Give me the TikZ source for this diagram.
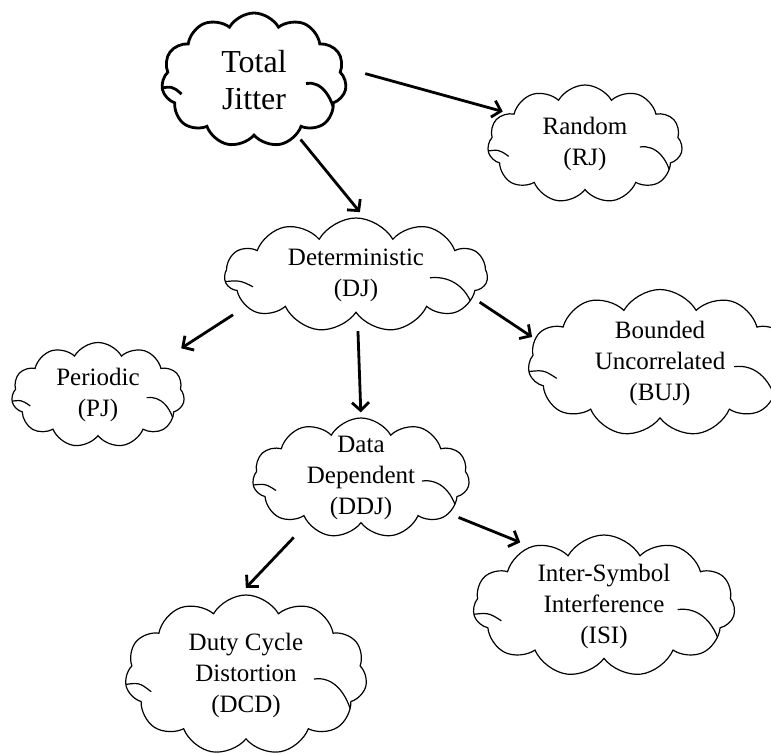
\documentclass[tikz,border=0pt]{standalone}
\usepackage{fontspec}
\setmainfont{Liberation Serif}
\usetikzlibrary{shapes.symbols,arrows.meta,calc}

\tikzset{
    jitter/.style={cloud, cloud puffs=11, cloud puff arc=120, cloud ignores aspect,
        draw, line width=1.2pt, align=center, inner xsep=-12pt, inner ysep=-20pt,
        font=\fontsize{25}{31}\selectfont, path picture={
            \draw let \p1=(path picture bounding box.south west),
                \p2=(path picture bounding box.north east) in
                ({\x1+0.78*(\x2-\x1)},{\y2-0.53*(\y2-\y1)})
                .. controls ({\x1+0.86*(\x2-\x1)},{\y2-0.51*(\y2-\y1)})
                and ({\x1+0.93*(\x2-\x1)},{\y2-0.62*(\y2-\y1)})
                .. ({\x1+0.95*(\x2-\x1)},{\y2-0.86*(\y2-\y1)})
                ({\x1-0.02*(\x2-\x1)},{\y2-0.57*(\y2-\y1)})
                .. controls ({\x1+0.06*(\x2-\x1)},{\y2-0.55*(\y2-\y1)})
                .. ({\x1+0.11*(\x2-\x1)},{\y2-0.61*(\y2-\y1)});
        }},
    arr/.style={-{Straight Barb[length=8pt,width=17pt]}, line width=2.8pt}
}

\begin{document}
\begin{tikzpicture}[x=1pt,y=-1pt]
    \useasboundingbox (0,0) rectangle (771,753);
    \node [jitter, line width=2.8pt, minimum width=185pt, minimum height=134pt,
        font=\fontsize{32}{37}\selectfont] (tj) at (254,80) {Total\\Jitter};
    \node [jitter, minimum width=195pt, minimum height=118pt] (rj) at (585,144) {Random\\(RJ)};
    \node [jitter, minimum width=263pt, minimum height=114pt] (dj) at (356,275) {Deterministic\\(DJ)};
    \node [jitter, minimum width=173pt, minimum height=105pt] (pj) at (98,395) {Periodic\\(PJ)};
    \node [jitter, minimum width=264pt, minimum height=147pt] (buj) at (660,363) {Bounded\\Uncorrelated\\(BUJ)};
    \node [jitter, minimum width=217pt, minimum height=120pt] (ddj) at (361,478) {Data\\Dependent\\(DDJ)};
    \node [jitter, minimum width=262pt, minimum height=142pt] (isi) at (604,606) {Inter-Symbol\\Interference\\(ISI)};
    \node [jitter, minimum width=242pt, minimum height=160pt] (dcd) at (246,675) {Duty Cycle\\Distortion\\(DCD)};

    \draw [arr, shorten <=23pt, shorten >=6pt] (tj.8) -- (rj.158);
    \draw [arr, shorten <=5pt, shorten >=8pt] (tj.-52) -- (dj.81);
    \draw [arr, shorten <=15pt, shorten >=26pt] (dj.196) -- (pj.28);
    \draw [arr, shorten <=16pt, shorten >=5pt] (dj.-88) -- (ddj.90);
    \draw [arr, shorten <=8pt, shorten >=3pt] (dj.-11) -- (buj.169);
    \draw [arr, shorten <=20pt, shorten >=10pt] (ddj.220) -- (dcd.95);
    \draw [arr, shorten <=10pt, shorten >=11pt] (ddj.-22) -- (isi.141);
\end{tikzpicture}
\end{document}
